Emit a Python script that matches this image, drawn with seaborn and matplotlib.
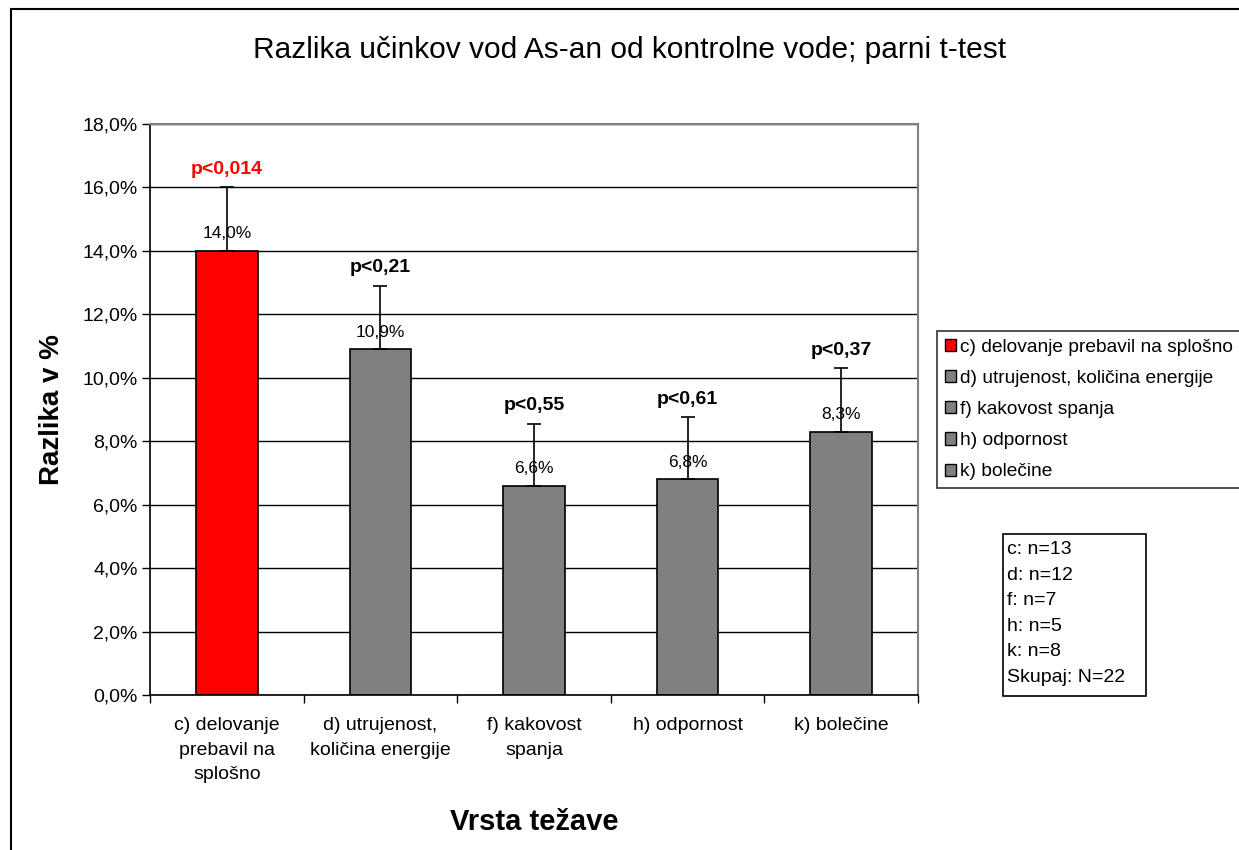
import numpy as np
import pandas as pd
import matplotlib
matplotlib.use("Agg")
import matplotlib.pyplot as plt
from matplotlib.patches import Rectangle, Patch
from matplotlib.ticker import FuncFormatter, FixedLocator
import seaborn as sns

# data
categories = ["c) delovanje\nprebavil na\nsplošno", "d) utrujenost,\nkoličina energije",
              "f) kakovost\nspanja", "h) odpornost", "k) bolečine"]
legend_labels = ["c) delovanje prebavil na splošno", "d) utrujenost, količina energije",
                 "f) kakovost spanja", "h) odpornost", "k) bolečine"]
values = [14.0, 10.9, 6.6, 6.8, 8.3]
errors = [2.0, 2.0, 1.95, 1.95, 2.0]
p_labels = ["p<0,014", "p<0,21", "p<0,55", "p<0,61", "p<0,37"]
n_lines = ["c: n=13", "d: n=12", "f: n=7", "h: n=5", "k: n=8", "Skupaj: N=22"]
bar_colors = ["#ff0000", "#808080", "#808080", "#808080", "#808080"]
p_colors = ["#ff0000", "black", "black", "black", "black"]

sns.set_style("white")
plt.rcParams["font.family"] = ["Liberation Sans", "DejaVu Sans"]
plt.rcParams["text.color"] = "black"
plt.rcParams["axes.labelcolor"] = "black"
plt.rcParams["xtick.color"] = "black"
plt.rcParams["ytick.color"] = "black"

df = pd.DataFrame({"cat": categories, "val": values})

fig = plt.figure(figsize=(12.39, 8.5), dpi=100)
ax = fig.add_axes([150 / 1239, 1 - 695 / 850, 768 / 1239, 571 / 850])

sns.barplot(data=df, x="cat", y="val", hue="cat", palette=bar_colors, legend=False,
            saturation=1, width=0.4, edgecolor="black", linewidth=1.2, ax=ax, zorder=2)

x = np.arange(len(values))
ax.errorbar(x, values, yerr=[np.zeros(len(errors)), errors], fmt="none",
            ecolor="black", elinewidth=1.2, capsize=5, capthick=1.2, zorder=4)

for xi, v, e, p, pc in zip(x, values, errors, p_labels, p_colors):
    ax.annotate(f"{v:.1f}%".replace(".", ","), (xi, v), xytext=(0, 7), textcoords="offset points",
                ha="center", va="bottom", fontsize=12.5, zorder=3)
    ax.annotate(p, (xi, v + e), xytext=(0, 7), textcoords="offset points",
                ha="center", va="bottom", fontsize=14, fontweight="bold", color=pc, zorder=3)

ax.set_ylim(0, 18)
ax.set_xlim(-0.5, len(values) - 0.5)
ax.yaxis.set_major_locator(FixedLocator(np.arange(0, 18.1, 2)))
ax.yaxis.set_major_formatter(FuncFormatter(lambda v, _: f"{v:.1f}%".replace(".", ",")))
ax.grid(axis="y", color="black", linewidth=1.0, zorder=0)
ax.set_axisbelow(True)

ax.set_xticks(x)
ax.set_xticklabels(categories, fontsize=14, linespacing=1.58)
ax.set_xticks(np.arange(-0.5, len(values)), minor=True)
ax.tick_params(axis="x", which="major", length=0, pad=16)
ax.tick_params(axis="x", which="minor", length=6, width=1, color="black", direction="out")
ax.tick_params(axis="y", length=6, width=1, color="black", direction="out", labelsize=14, pad=3)
ax.tick_params(left=True, bottom=True, which="both")

for side in ["left", "bottom"]:
    ax.spines[side].set_color("black")
    ax.spines[side].set_linewidth(1.2)
for side in ["top", "right"]:
    ax.spines[side].set_visible(True)
    ax.spines[side].set_color("#808080")
    ax.spines[side].set_linewidth(1.5)

ax.set_xlabel("Vrsta težave", fontsize=21, fontweight="bold", labelpad=18)
ax.set_ylabel("Razlika v %", fontsize=20, fontweight="bold", labelpad=12)

fig.text(630 / 1239, 1 - 50 / 850, "Razlika učinkov vod As-an od kontrolne vode; parni t-test",
         ha="center", va="center", fontsize=21.5)

# outer chart frame (clipped at the right and bottom like the reference)
fig.patches.append(Rectangle((11 / 1239, -0.05), 1.1, 1 - 9 / 850 + 0.05,
                             transform=fig.transFigure, fill=False,
                             edgecolor="black", linewidth=1.5))

handles = [Patch(facecolor=c, edgecolor="black", linewidth=1) for c in bar_colors]
leg = fig.legend(handles, legend_labels, loc="upper left",
                 bbox_to_anchor=(937 / 1239, 1 - 331 / 850), fontsize=13.8,
                 frameon=True, fancybox=False, handlelength=0.6, handleheight=0.6,
                 handletextpad=0.2, labelspacing=0.74, borderpad=0.4, borderaxespad=0)
leg.get_frame().set_edgecolor("black")
leg.get_frame().set_linewidth(1.2)

# n box
fig.patches.append(Rectangle((1003 / 1239, 1 - 696 / 850), 143 / 1239, 162 / 850,
                             transform=fig.transFigure, fill=False,
                             edgecolor="black", linewidth=1.2))
fig.text(1007 / 1239, 1 - 541 / 850, "\n".join(n_lines), ha="left", va="top",
         fontsize=14, linespacing=1.66)

fig.savefig("out.png", dpi=100)
